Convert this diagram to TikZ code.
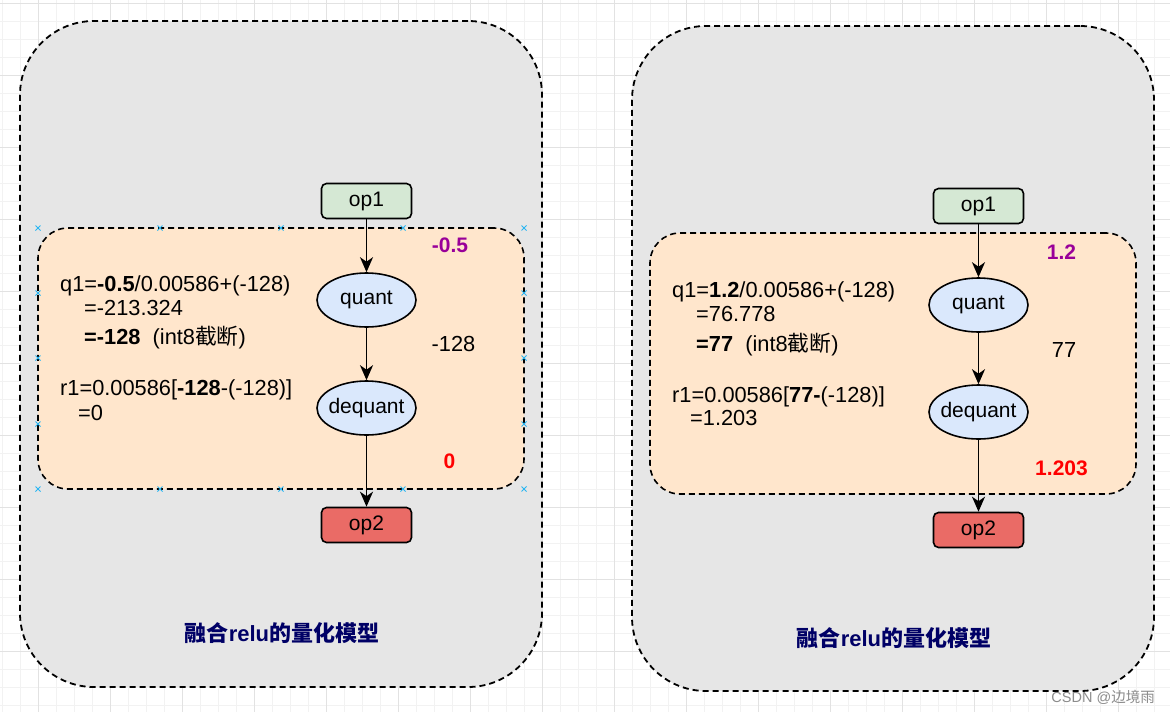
\documentclass[tikz,border=0pt]{standalone}
\usepackage{fontspec}
\setmainfont{Liberation Sans}
\newfontfamily\cjk{Noto Sans CJK SC}
\usetikzlibrary{shapes.geometric,arrows.meta}
\definecolor{grayfill}{HTML}{E6E6E6}
\definecolor{orangefill}{HTML}{FFE6CC}
\definecolor{greenfill}{HTML}{D5E8D4}
\definecolor{redfill}{HTML}{EA6B66}
\definecolor{bluefill}{HTML}{DAE8FC}
\definecolor{purp}{HTML}{990099}
\definecolor{navy}{HTML}{000066}
\definecolor{handle}{HTML}{29B6F2}
\definecolor{gridminor}{HTML}{F2F2F2}
\definecolor{gridmajor}{HTML}{E2E2E2}
\newcommand{\zw}[1]{\makebox[0pt]{#1}}
\begin{document}
\begin{tikzpicture}[x=1pt,y=-1pt,
  container/.style={draw, line width=1.8pt, dash pattern=on 6pt off 4pt, fill=grayfill, rounded corners=74pt, inner sep=0},
  region/.style={draw, line width=1.6pt, dash pattern=on 6pt off 4pt, fill=orangefill, rounded corners=30pt, inner sep=0},
  opbox/.style={draw, line width=1.6pt, rounded corners=5pt, minimum width=90pt, minimum height=35pt, inner sep=0, font=\fontsize{21}{25}\selectfont},
  oval/.style={ellipse, draw, line width=1.6pt, fill=bluefill, minimum width=99pt, minimum height=54pt, inner sep=0, font=\fontsize{21}{25}\selectfont},
  flow/.style={line width=1.8pt, -{Stealth[length=15pt,width=13pt,inset=4.5pt]}},
  txt/.style={anchor=base west, inner sep=0, font=\fontsize{21.8}{25}\selectfont},
  val/.style={anchor=base, inner sep=0, font=\fontsize{21.8}{25}\selectfont},
  bval/.style={anchor=base, inner sep=0, font=\fontsize{21}{25}\selectfont\bfseries},
  title/.style={inner sep=0, text=navy, font=\fontsize{22}{26}\selectfont\bfseries},
  handlemark/.style={draw=handle, line width=1pt}
]
\useasboundingbox (0,0) rectangle (1170,712);
\fill[white] (0,0) rectangle (1170,712);
% grid
\foreach \gx in {2,20,...,1170} \draw[gridminor, line width=1pt] (\gx,0) -- (\gx,712);
\foreach \gy in {3,21,...,712} \draw[gridminor, line width=1pt] (0,\gy) -- (1170,\gy);
\foreach \gx in {38,110,...,1170} \draw[gridmajor, line width=1pt] (\gx,0) -- (\gx,712);
\foreach \gy in {3,75,...,712} \draw[gridmajor, line width=1pt] (0,\gy) -- (1170,\gy);

% ---------- left diagram ----------
\node[container, minimum width=522pt, minimum height=666pt] (boxL) at (281,354) {};
\node[region, minimum width=486pt, minimum height=261pt] (regL) at (281,358.5) {};
\node[opbox, fill=greenfill] (op1L) at (366.5,201) {op1};
\node[oval] (quantL) at (366.5,300) {\zw{quant}};
\node[oval] (dequantL) at (366.5,408) {\zw{dequant}};
\node[opbox, fill=redfill] (op2L) at (366.5,525) {op2};
\draw[flow] (op1L) -- (quantL);
\draw[flow] (quantL) -- (dequantL);
\draw[flow] (dequantL) -- (op2L);

\node[txt] (l1) at (60,291) {q1=\textbf{-0.5}/0.00586+(-128)};
\node[txt] (l2) at (84,315) {=-213.324};
\node[txt] (l3) at (84,344) {\textbf{=-128}\ \ (int8{\cjk 截断})};
\node[txt] (l4) at (60,395) {r1=0.00586[\textbf{-128}-(-128)]};
\node[txt] (l5) at (78,420) {=0};
\node[bval, text=purp] (vinL) at (450,252) {-0.5};
\node[val] (vmidL) at (453.5,351) {-128};
\node[bval, text=red] (voutL) at (449.5,468) {0};
\node[title] (titleL) at (282,633) {{\cjk 融合}relu{\cjk 的量化模型}};

% selection handles
\foreach \hx in {38,160,281,403,524} {
  \draw[handlemark] (\hx-2.5,228-2.5) -- (\hx+2.5,228+2.5) (\hx-2.5,228+2.5) -- (\hx+2.5,228-2.5);
  \draw[handlemark] (\hx-2.5,489-2.5) -- (\hx+2.5,489+2.5) (\hx-2.5,489+2.5) -- (\hx+2.5,489-2.5);
}
\foreach \hy in {293,358,424} {
  \draw[handlemark] (38-2.5,\hy-2.5) -- (38+2.5,\hy+2.5) (38-2.5,\hy+2.5) -- (38+2.5,\hy-2.5);
  \draw[handlemark] (524-2.5,\hy-2.5) -- (524+2.5,\hy+2.5) (524-2.5,\hy+2.5) -- (524+2.5,\hy-2.5);
}

% ---------- right diagram ----------
\node[container, minimum width=522pt, minimum height=665pt] (boxR) at (893,358.5) {};
\node[region, minimum width=486pt, minimum height=261pt] (regR) at (893,363.5) {};
\node[opbox, fill=greenfill] (op1R) at (978.5,206) {op1};
\node[oval] (quantR) at (978.5,305) {\zw{quant}};
\node[oval] (dequantR) at (978.5,412) {\zw{dequant}};
\node[opbox, fill=redfill] (op2R) at (978.5,530) {op2};
\draw[flow] (op1R) -- (quantR);
\draw[flow] (quantR) -- (dequantR);
\draw[flow] (dequantR) -- (op2R);

\node[txt] (r1) at (672,297) {q1=\textbf{1.2}/0.00586+(-128)};
\node[txt] (r2) at (696,321) {=76.778};
\node[txt] (r3) at (696,351) {\textbf{=77}\ \ (int8{\cjk 截断})};
\node[txt] (r4) at (672,402) {r1=0.00586[\textbf{77-}(-128)]};
\node[txt] (r5) at (690,425) {=1.203};
\node[bval, text=purp] (vinR) at (1061.5,259) {1.2};
\node[val] (vmidR) at (1064,357) {77};
\node[bval, text=red] (voutR) at (1061.5,475) {1.203};
\node[title] (titleR) at (894,638) {{\cjk 融合}relu{\cjk 的量化模型}};

% watermark
\node[anchor=base east, inner sep=0, text=black!45, font=\fontsize{14.5}{16}\selectfont] (wm) at (1155,702) {CSDN @{\cjk 边境雨}};
\end{tikzpicture}
\end{document}
